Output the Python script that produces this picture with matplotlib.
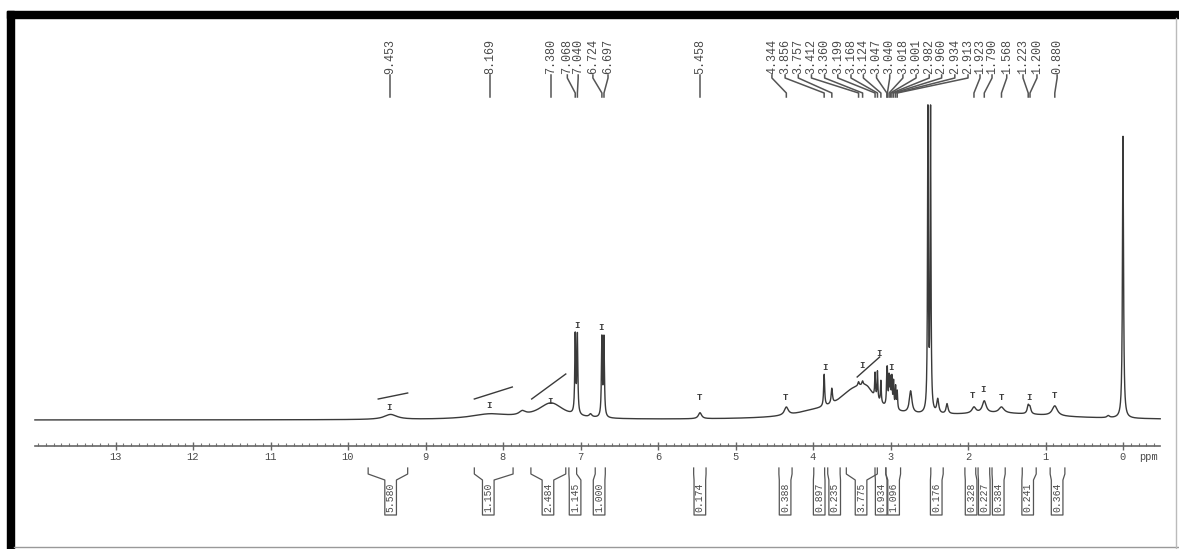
import matplotlib
matplotlib.use("Agg")
import matplotlib.pyplot as plt
from matplotlib.patches import Rectangle
from matplotlib.lines import Line2D
import numpy as np

W, H = 1179, 549

# broad components of the 1H spectrum: ppm, height, half width (ppm)
broad_ppm = [9.45, 8.17, 7.75, 7.38, 6.87, 4.00, 3.45, 3.30, 1.60]
broad_h = [5, 5, 4, 16, 3, 4, 28, 10, 6]
broad_w = [0.10, 0.30, 0.05, 0.20, 0.02, 0.30, 0.28, 0.10, 0.90]

# sharp lines (the solvent line is drawn as a close pair)
sharp_ppm = [7.068, 7.040, 6.724, 6.697, 5.458, 4.344, 3.856, 3.757, 3.412, 3.360,
             3.199, 3.168, 3.124, 3.047, 3.040, 3.018, 3.001, 2.982, 2.960, 2.934,
             2.913, 2.740, 2.517, 2.483, 2.390, 2.270, 1.923, 1.790, 1.568, 1.223,
             1.200, 0.880, 0.190, 0.000]
sharp_h = [78, 78, 78, 78, 6, 8, 32, 15, 4, 4,
           24, 28, 22, 26, 26, 28, 26, 29, 26, 22,
           18, 22, 300, 300, 14, 10, 6, 12, 6, 8,
           6, 10, 2, 282]
sharp_w = [0.007, 0.007, 0.007, 0.007, 0.025, 0.03, 0.008, 0.01, 0.01, 0.01,
           0.006, 0.006, 0.006, 0.006, 0.006, 0.006, 0.006, 0.006, 0.006, 0.006,
           0.006, 0.02, 0.006, 0.006, 0.015, 0.015, 0.03, 0.03, 0.04, 0.015,
           0.015, 0.04, 0.02, 0.008]

# peak picking labels and where their text sits (ppm)
peak_labels = ["9.453", "8.169", "7.380", "7.068", "7.040", "6.724", "6.697", "5.458",
               "4.344", "3.856", "3.757", "3.412", "3.360", "3.199", "3.168", "3.124",
               "3.047", "3.040", "3.018", "3.001", "2.982", "2.960", "2.934", "2.913",
               "1.923", "1.790", "1.568", "1.223", "1.200", "0.880"]
label_x = [9.453, 8.169, 7.380, 7.17, 7.03, 6.84, 6.645, 5.458,
           4.53, 4.36, 4.19, 4.02, 3.85, 3.68, 3.51, 3.35,
           3.18, 3.01, 2.84, 2.67, 2.50, 2.34, 2.17, 2.00,
           1.845, 1.69, 1.50, 1.29, 1.11, 0.85]

# integrals: region edges, box centre, value
int_left = [9.74, 8.37, 7.64, 7.15, 6.81, 5.54, 4.44, 3.99, 3.81, 3.57, 3.20, 3.06,
            2.48, 2.04, 1.87, 1.69, 1.30, 0.94]
int_right = [9.23, 7.87, 7.19, 7.05, 6.68, 5.38, 4.27, 3.85, 3.65, 3.17, 3.06, 2.87,
             2.32, 1.90, 1.72, 1.52, 1.12, 0.75]
int_box = [9.45, 8.19, 7.42, 7.07, 6.76, 5.46, 4.36, 3.92, 3.72, 3.38, 3.12, 2.96,
           2.41, 1.96, 1.79, 1.61, 1.23, 0.85]
int_values = ["5.580", "1.150", "2.484", "1.145", "1.000", "0.174", "0.388", "0.897",
              "0.235", "3.775", "0.934", "1.096", "0.176", "0.328", "0.227", "0.384",
              "0.241", "0.364"]

# integral traces drawn over the spectrum: ppm from/to, height from/to
trace_ppm0 = [9.61, 8.37, 7.63, 3.43]
trace_ppm1 = [9.23, 7.88, 7.19, 3.14]
trace_h0 = [21, 21, 21, 43]
trace_h1 = [27, 33, 46, 63]
mark_ppm = [9.47, 8.18, 7.39, 7.05, 6.74, 3.85, 3.37, 3.15, 2.99,
            5.46, 4.35, 1.94, 1.81, 1.57, 1.21, 0.88]
mark_h = [13, 15, 19, 95, 93, 52, 55, 66, 52,
          22, 22, 25, 30, 23, 23, 25]
mark_glyph = ["I", "I", "I", "I", "I", "I", "I", "I", "I",
              "T", "T", "T", "I", "T", "I", "T"]

ink = "#3a3a3a"
txt = "#4a4a4a"
mono = "Liberation Mono"


def lorentz(x, x0, h, w):
    return h / (1 + ((x - x0) / w) ** 2)


ppm = np.linspace(-0.48, 14.04, 40000)
spec = np.zeros_like(ppm)
for p, h, w in zip(broad_ppm + sharp_ppm, broad_h + sharp_h, broad_w + sharp_w):
    spec += lorentz(ppm, p, h, w)

fig = plt.figure(figsize=(W / 100, H / 100), dpi=100)
ax = fig.add_axes([0, 0, 1, 1])
ax.set_xlim(1123 / 77.5, (1123 - W) / 77.5)
ax.set_ylim(420 - H, 420)
ax.patch.set_visible(False)

ax.plot(ppm, spec, color=ink, lw=1.0)

# integral traces and small markers
for a, b, ha_, hb in zip(trace_ppm0, trace_ppm1, trace_h0, trace_h1):
    ax.plot([a, b], [ha_, hb], color=ink, lw=1.0)
for p, h, g in zip(mark_ppm, mark_h, mark_glyph):
    ax.text(p, h, g, ha="center", va="center", fontsize=6.5, family=mono,
            color=ink, fontweight="bold")

# peak labels with leader lines
for lab, lx in zip(peak_labels, label_x):
    px = float(lab)
    ax.text(lx, 346, lab, rotation=90, ha="center", va="bottom", fontsize=8.5,
            family=mono, color=txt)
    ax.plot([lx, lx, px, px], [345, 342, 327, 323], color="#555555", lw=1.1)

# integral brackets below the axis
bw = 0.075
for a, b, c, v in zip(int_left, int_right, int_box, int_values):
    ax.plot([a, a, c + bw, c + bw, c - bw, c - bw, b, b],
            [-48, -54, -60, -95, -95, -60, -54, -48], color="#555555", lw=0.9)
    ax.text(c, -77.5, v, rotation=90, ha="center", va="center", fontsize=7,
            family=mono, color=txt)

# ppm axis
for s in ["top", "left", "right"]:
    ax.spines[s].set_visible(False)
ax.yaxis.set_visible(False)
ax.spines["bottom"].set_position(("data", -26))
ax.spines["bottom"].set_bounds(-0.48, 14.04)
ax.spines["bottom"].set_color("#666666")
ax.spines["bottom"].set_linewidth(1.2)
ax.set_xticks(range(14))
ax.set_xticklabels([str(t) for t in range(14)])
ax.set_xticks(np.arange(-4, 141) / 10, minor=True)
ax.tick_params(axis="x", which="major", direction="inout", length=6, width=1,
               color="#666666", labelsize=7.5, labelcolor=txt, pad=1,
               labelfontfamily=mono)
ax.tick_params(axis="x", which="minor", direction="in", length=2.5, width=0.8,
               color="#777777")
ax.text(-0.33, -36.5, "ppm", ha="center", va="center", fontsize=7.5,
        family=mono, color=txt)

# scanned page frame
fig.add_artist(Rectangle((7 / W, 0), 7 / W, (H - 11) / H,
                         transform=fig.transFigure, color="black"))
fig.add_artist(Rectangle((7 / W, (H - 18) / H), 1 - 7 / W, 7 / H,
                         transform=fig.transFigure, color="black"))
fig.add_artist(Line2D([14 / W, 1], [2 / H, 2 / H], transform=fig.transFigure,
                      color="#999999", lw=1))
fig.add_artist(Line2D([1176 / W, 1176 / W], [0, (H - 18) / H],
                      transform=fig.transFigure, color="#bbbbbb", lw=1))

fig.savefig("out.png", dpi=100)
